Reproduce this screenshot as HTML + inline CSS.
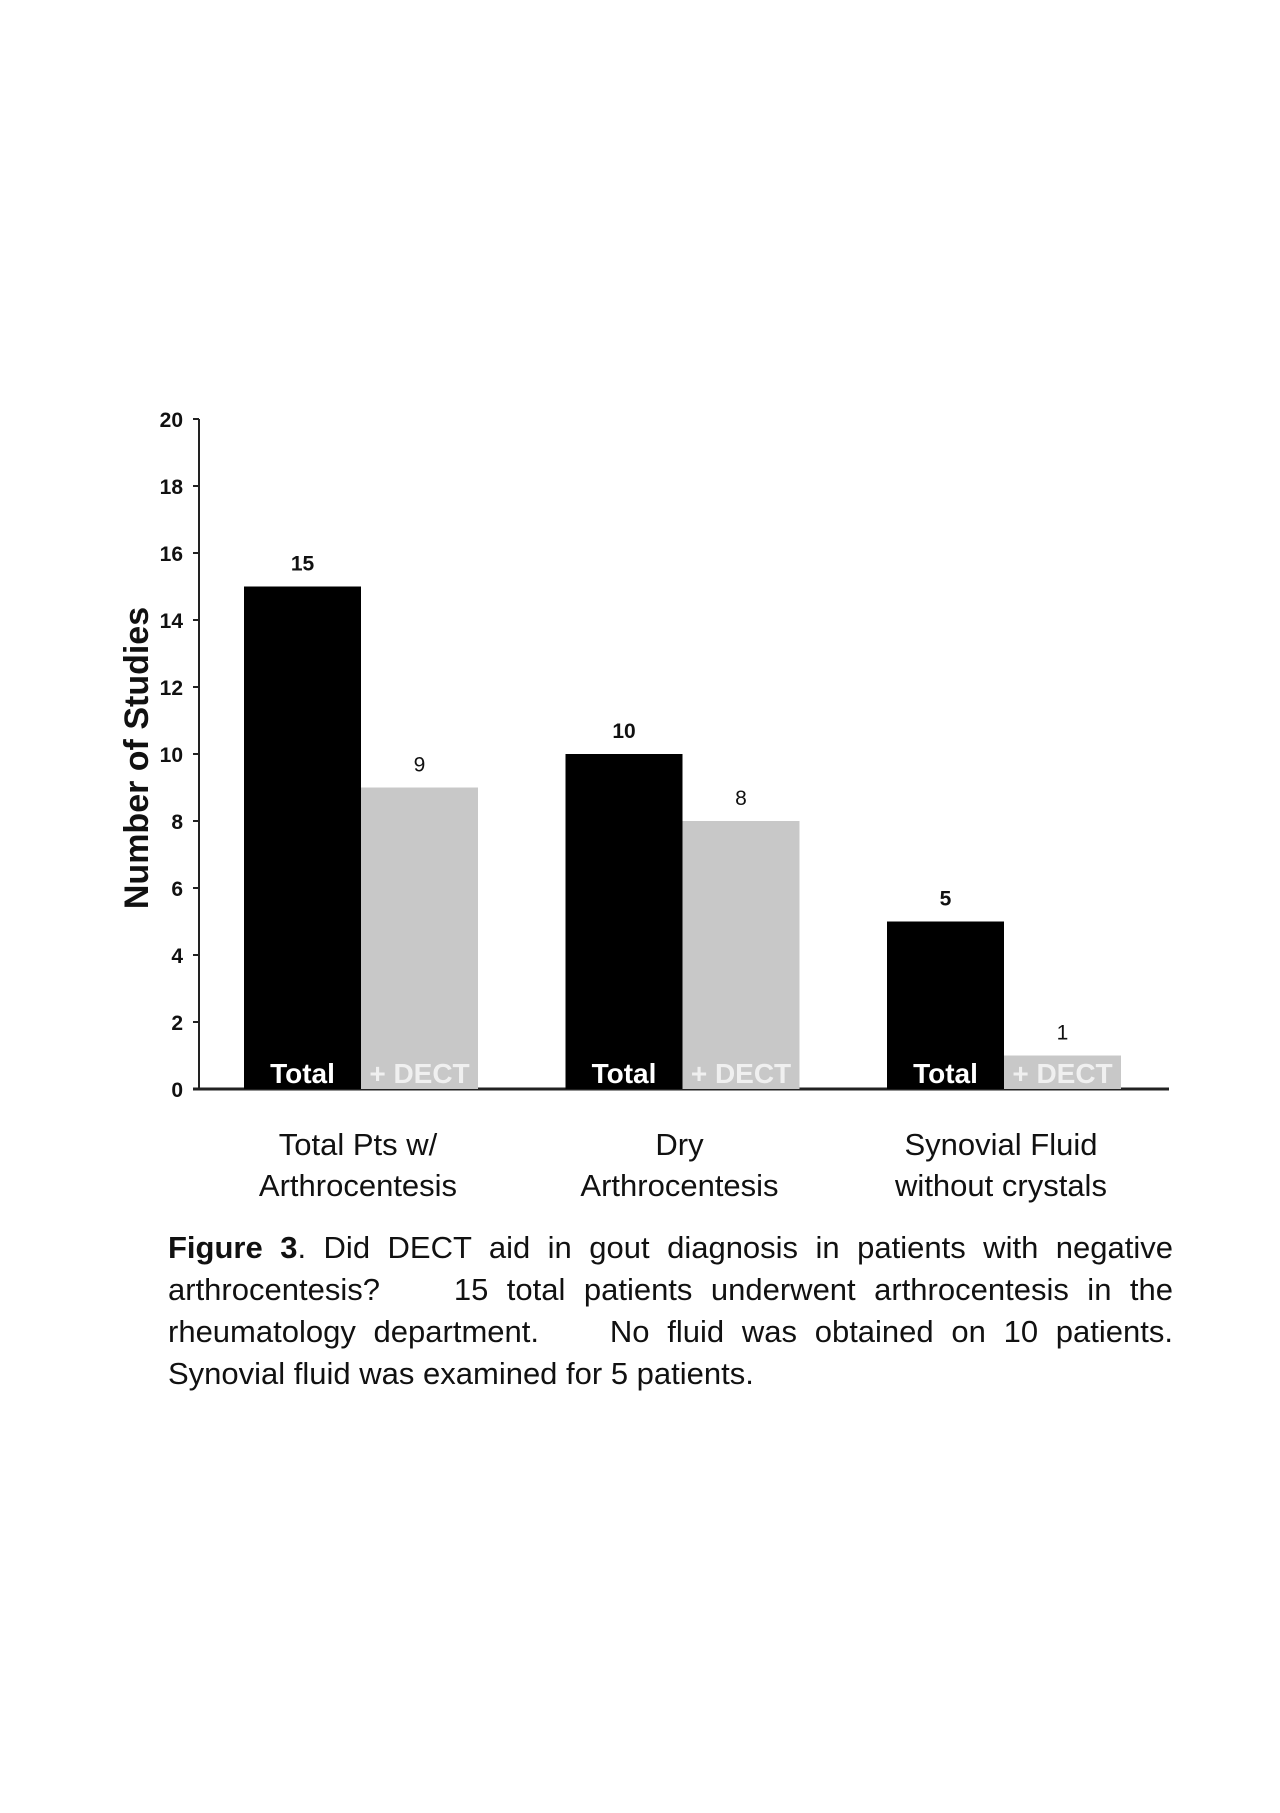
<!DOCTYPE html>
<html><head><meta charset="utf-8">
<style>
html,body{margin:0;padding:0;background:#fff;}
body{width:1280px;height:1813px;position:relative;overflow:hidden;font-family:"Liberation Sans",Arial,sans-serif;}
#caption{position:absolute;left:168px;top:1227px;width:1005px;font-size:31px;line-height:42px;color:#111;}
#caption div{text-align:justify;text-align-last:justify;white-space:nowrap;}
#caption div.last{text-align-last:left;}
</style></head>
<body>
<svg id="chart" width="1280" height="1220" style="position:absolute;left:0;top:0" xmlns="http://www.w3.org/2000/svg"></svg>
<div id="caption">
<div><b>Figure 3</b>. Did DECT aid in gout diagnosis in patients with negative</div>
<div>arthrocentesis?&nbsp;&nbsp;&nbsp; 15 total patients underwent arthrocentesis in the</div>
<div>rheumatology department.&nbsp;&nbsp;&nbsp; No fluid was obtained on 10 patients.</div>
<div class="last">Synovial fluid was examined for 5 patients.</div>
</div>
<script>
const categories = [["Total Pts w/","Arthrocentesis"],["Dry","Arthrocentesis"],["Synovial Fluid","without crystals"]];
const totalValues = [15, 10, 5];
const dectValues = [9, 8, 1];
const yTicks = [0,2,4,6,8,10,12,14,16,18,20];

const svg = document.getElementById('chart');
const NS = 'http://www.w3.org/2000/svg';
const x0 = 199, x1 = 1169, y0 = 1089, yMax = 20, unit = 33.5;
const groupW = 321.5;
const barW = 117;
const firstBar = 244;
function yScale(v){ return y0 - v * unit; }
function groupX(i){ return firstBar + i * groupW; }
function mk(tag, attrs, text){
  const e = document.createElementNS(NS, tag);
  for (const k in attrs) e.setAttribute(k, attrs[k]);
  if (text !== undefined) e.textContent = text;
  svg.appendChild(e); return e;
}
let e;
e = mk('line',{x1:x0,y1:yScale(yMax),x2:x0,y2:y0+1,stroke:'#222','stroke-width':2});


e = mk('line',{x1:x0-6,y1:y0,x2:x1,y2:y0,stroke:'#222','stroke-width':3});


yTicks.forEach(t=>{
  const y = yScale(t);
  e = mk('line',{x1:x0-6,y1:y,x2:x0,y2:y,stroke:'#222','stroke-width':2});
  
  
  e = mk('text',{x:183,y:y+8,'text-anchor':'end','font-size':21,'font-weight':'bold',fill:'#111'},t);
  
  
});
e = mk('text',{x:0,y:0,transform:'translate(148,758) rotate(-90)','text-anchor':'middle','font-size':34,'font-weight':'bold',fill:'#111'},'Number of Studies');



categories.forEach((c,i)=>{
  const gx = groupX(i);
  const yt = yScale(totalValues[i]);
  e = mk('rect',{x:gx,y:yt,width:barW,height:y0-yt,fill:'#000'});
  
  
  const yd = yScale(dectValues[i]);
  e = mk('rect',{x:gx+barW,y:yd,width:barW,height:y0-yd,fill:'#c8c8c8'});
  
  
  e = mk('text',{x:gx+barW/2,y:yt-16,'text-anchor':'middle','font-size':21,'font-weight':'bold',fill:'#111'},totalValues[i]);
  
  
  e = mk('text',{x:gx+barW*1.5,y:yd-16,'text-anchor':'middle','font-size':21,fill:'#111'},dectValues[i]);
  
  
  e = mk('text',{x:gx+barW/2,y:y0-6,'text-anchor':'middle','font-size':28,'font-weight':'bold',fill:'#fff'},'Total');
  
  
  e = mk('text',{x:gx+barW*1.5,y:y0-6,'text-anchor':'middle','font-size':28,'font-weight':'bold',fill:'#f0f0f0'},'+ DECT');
  
  
  const cx = gx + barW - 3;
  c.forEach((line,j)=>{
    e = mk('text',{x:cx,y:1155+j*41,'text-anchor':'middle','font-size':31,fill:'#111'},line);
    
    
  });
});
</script>
</body></html>
